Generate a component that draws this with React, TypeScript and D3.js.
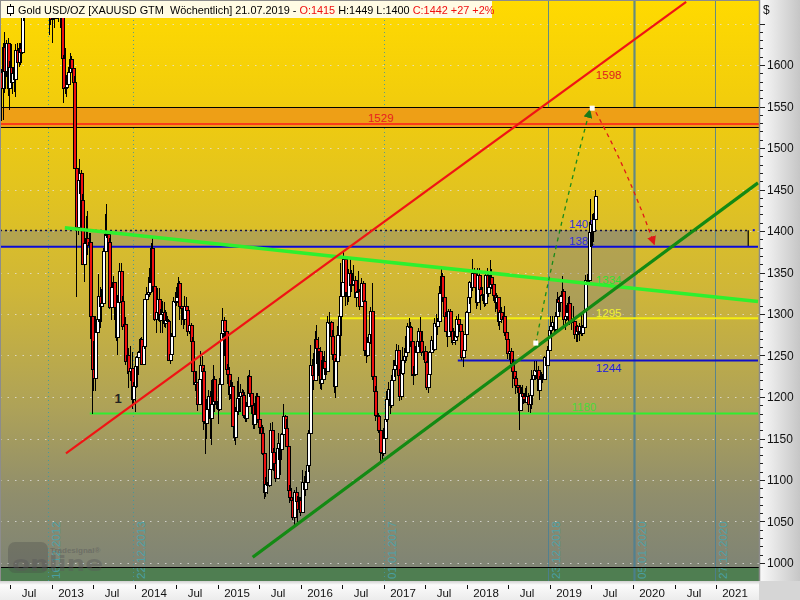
import React from 'react';
import * as d3 from 'd3';

// ---------- weekly OHLC data (week ending Friday), open = previous close ----------
const firstWeekEnd = '2012-05-25';
const firstOpen = 1592;

const close2012 = [1572,1622,1593,1627,1572,1598,1579,1590,1583,1618,1604,1621,1616,1670,1691,1740,1772,1772,1773,1780,1758,1724,1712,1676,1731,1713,1751,1712,1705,1696,1658,1656];
const high2012 = [1595,1627,1640,1630,1632,1605,1625,1597,1596,1625,1626,1626,1626,1678,1693,1741,1777,1787,1781,1796,1789,1755,1733,1724,1738,1737,1754,1754,1722,1724,1698,1670];
const low2012 = [1532,1534,1566,1585,1563,1546,1575,1565,1567,1562,1582,1598,1600,1613,1653,1685,1733,1754,1752,1765,1752,1719,1702,1672,1673,1705,1715,1703,1683,1690,1636,1648];

const close2013 = [1657,1662,1687,1659,1667,1667,1609,1572,1573,1577,1592,1607,1596,1580,1476,1405,1462,1470,1437,1360,1386,1392,1383,1387,1297,1234,1223,1278,1294,1322,1310,1313,1376,1396,1396,1387,1308,1333,1338,1309,1272,1315,1352,1316,1286,1288,1243,1250,1231,1235,1198,1213];
const high2013 = [1694,1679,1694,1696,1680,1684,1675,1612,1620,1588,1597,1615,1611,1605,1587,1480,1469,1487,1473,1445,1398,1418,1424,1398,1397,1300,1267,1298,1298,1348,1332,1330,1379,1420,1433,1399,1391,1369,1346,1338,1317,1323,1361,1361,1322,1296,1296,1263,1259,1261,1254,1218];
const low2013 = [1626,1645,1661,1655,1652,1645,1604,1554,1565,1562,1576,1589,1590,1540,1476,1321,1395,1445,1428,1359,1338,1379,1371,1371,1270,1180,1207,1207,1271,1290,1283,1290,1312,1363,1391,1361,1306,1293,1311,1293,1268,1251,1311,1304,1281,1265,1238,1228,1211,1219,1186,1193];

const close2014 = [1237,1248,1254,1270,1240,1262,1318,1324,1326,1338,1379,1334,1294,1303,1318,1293,1300,1302,1289,1293,1292,1245,1252,1274,1316,1316,1320,1337,1310,1307,1294,1310,1305,1280,1287,1268,1231,1216,1218,1192,1222,1238,1231,1171,1169,1185,1201,1175,1191,1222,1195,1195];
const high2014 = [1239,1249,1255,1271,1272,1269,1318,1332,1345,1355,1385,1392,1340,1310,1331,1331,1306,1316,1315,1305,1298,1294,1255,1277,1321,1326,1332,1345,1340,1316,1310,1322,1320,1305,1293,1289,1272,1236,1230,1218,1230,1255,1250,1235,1180,1197,1208,1207,1220,1238,1225,1205];
const low2014 = [1182,1211,1226,1238,1239,1239,1258,1312,1319,1321,1335,1327,1291,1277,1293,1290,1277,1277,1284,1283,1283,1243,1240,1251,1271,1309,1310,1313,1293,1287,1282,1287,1291,1273,1276,1260,1230,1215,1207,1183,1190,1222,1228,1160,1131,1149,1176,1150,1142,1193,1182,1186];

const close2015 = [1186,1216,1277,1293,1279,1234,1228,1204,1213,1165,1152,1183,1199,1201,1206,1203,1178,1175,1189,1225,1205,1190,1168,1180,1201,1173,1164,1157,1132,1085,1095,1094,1113,1160,1134,1121,1103,1138,1145,1137,1156,1177,1163,1141,1088,1080,1076,1056,1085,1075,1065,1076];
const high2015 = [1210,1223,1283,1307,1296,1284,1240,1236,1220,1218,1175,1188,1219,1224,1216,1210,1209,1192,1194,1227,1232,1206,1199,1193,1205,1205,1180,1171,1166,1134,1104,1097,1125,1169,1170,1138,1124,1143,1157,1147,1157,1191,1178,1173,1145,1094,1090,1080,1088,1091,1081,1080];
const low2015 = [1167,1183,1216,1271,1250,1232,1216,1196,1197,1164,1147,1142,1167,1178,1182,1191,1175,1170,1170,1185,1200,1180,1162,1162,1170,1169,1156,1149,1130,1077,1080,1083,1092,1113,1118,1111,1097,1101,1124,1106,1124,1154,1159,1141,1084,1072,1066,1052,1046,1065,1050,1065];

const close2016 = [1061,1098,1089,1097,1118,1157,1239,1226,1221,1270,1259,1255,1217,1222,1243,1235,1231,1290,1290,1273,1252,1213,1243,1275,1298,1322,1339,1366,1327,1322,1350,1335,1336,1341,1321,1326,1328,1310,1337,1316,1257,1251,1266,1276,1304,1225,1207,1178,1177,1160,1134,1133,1151];
const high2016 = [1080,1112,1105,1111,1128,1160,1263,1246,1253,1279,1287,1272,1260,1244,1250,1256,1270,1297,1303,1292,1281,1253,1247,1285,1315,1362,1350,1375,1368,1335,1354,1367,1353,1359,1346,1328,1352,1330,1343,1340,1317,1264,1272,1281,1308,1337,1234,1213,1191,1181,1169,1140,1163];
const low2016 = [1057,1060,1071,1081,1096,1110,1157,1200,1208,1220,1240,1225,1210,1208,1218,1226,1227,1230,1269,1262,1244,1205,1199,1240,1270,1250,1307,1340,1310,1311,1314,1334,1327,1334,1319,1309,1322,1305,1312,1316,1250,1241,1248,1263,1264,1220,1200,1171,1160,1157,1122,1124,1129];

const close2017 = [1173,1197,1210,1190,1220,1234,1238,1257,1226,1201,1229,1245,1249,1254,1286,1284,1268,1227,1228,1254,1267,1280,1267,1254,1256,1242,1212,1228,1254,1269,1258,1289,1285,1291,1325,1346,1320,1297,1280,1274,1304,1280,1266,1269,1274,1294,1288,1280,1248,1257,1276,1303];
const high2017 = [1182,1207,1218,1220,1226,1245,1245,1264,1263,1234,1232,1260,1259,1273,1289,1295,1290,1268,1237,1262,1271,1283,1296,1278,1259,1262,1243,1232,1256,1274,1274,1295,1300,1295,1334,1357,1349,1326,1302,1283,1306,1306,1285,1283,1287,1297,1300,1283,1280,1262,1276,1304];
const low2017 = [1146,1170,1193,1180,1187,1215,1224,1232,1224,1195,1196,1227,1240,1241,1249,1272,1260,1226,1214,1230,1250,1260,1264,1250,1245,1240,1208,1205,1228,1251,1254,1256,1282,1275,1291,1325,1315,1292,1281,1260,1273,1275,1263,1265,1263,1271,1285,1270,1245,1236,1256,1276];

const close2018 = [1320,1338,1333,1350,1333,1315,1347,1330,1323,1324,1313,1347,1325,1332,1345,1336,1323,1315,1320,1291,1302,1294,1298,1278,1270,1253,1255,1241,1231,1223,1214,1212,1184,1205,1201,1198,1194,1201,1192,1203,1222,1227,1233,1233,1209,1222,1223,1222,1248,1238,1257,1281];
const high2018 = [1323,1340,1344,1366,1355,1337,1355,1356,1332,1332,1326,1349,1356,1348,1365,1354,1336,1322,1325,1320,1305,1308,1303,1310,1280,1265,1262,1259,1246,1235,1225,1220,1213,1215,1214,1204,1211,1213,1205,1208,1233,1233,1243,1243,1237,1225,1230,1228,1250,1250,1262,1284];
const low2018 = [1302,1312,1326,1328,1331,1306,1310,1324,1305,1316,1309,1310,1320,1321,1325,1330,1316,1302,1306,1286,1281,1289,1289,1274,1262,1246,1245,1238,1211,1220,1204,1205,1160,1184,1197,1191,1194,1193,1182,1181,1186,1219,1220,1222,1209,1196,1213,1217,1221,1235,1238,1256];

const close2019 = [1285,1290,1282,1298,1318,1314,1322,1328,1294,1298,1302,1313,1292,1291,1291,1276,1286,1279,1286,1277,1284,1305,1341,1341,1399,1409,1400,1415,1442];
const high2019 = [1298,1298,1298,1303,1326,1320,1323,1346,1330,1300,1311,1320,1322,1295,1310,1296,1290,1287,1289,1303,1287,1306,1347,1348,1411,1439,1420,1422,1449];
const low2019 = [1275,1280,1276,1278,1297,1303,1303,1321,1285,1281,1291,1296,1287,1281,1283,1270,1266,1266,1268,1273,1274,1280,1303,1320,1340,1381,1382,1387,1400];

// ---------- axes ----------
const priceTicks = [1000, 1050, 1100, 1150, 1200, 1250, 1300, 1350, 1400, 1450, 1500, 1550, 1600];
const gridPrices = [1000, 1050, 1100, 1150, 1200, 1250, 1300, 1350, 1400, 1450, 1500, 1550, 1600, 1650];
const timeTickDates = ['2012-07-01','2013-01-01','2013-07-01','2014-01-01','2014-07-01','2015-01-01','2015-07-01','2016-01-01','2016-07-01','2017-01-01','2017-07-01','2018-01-01','2018-07-01','2019-01-01','2019-07-01','2020-01-01','2020-07-01','2021-01-01'];
const timeTickLabels = ['Jul','2013','Jul','2014','Jul','2015','Jul','2016','Jul','2017','Jul','2018','Jul','2019','Jul','2020','Jul','2021'];

// ---------- drawing tools ----------
const markerDates = ['2012-12-16', '2013-12-22', '2017-01-01', '2018-12-23', '2020-01-05', '2020-12-27'];
const markerLabels = ['16.12.2012', '22.12.2013', '01.01.2017', '23.12.2018', '05.01.2020', '27.12.2020'];
const markerKinds = ['dot', 'dot', 'dot', 'thin', 'thick', 'thin'];

const redChannel = [{ d: '2013-03-04', p: 1132 }, { d: '2020-08-21', p: 1676 }];
const greenChannel = [{ d: '2015-06-03', p: 1007 }, { d: '2021-07-03', p: 1458 }];
const limeTrend = [{ d: '2013-02-27', p: 1404 }, { d: '2021-07-03', p: 1315 }];

const hLevels = [
  { p: 1381, from: '2012-05-18', to: '2021-07-03', color: '#0a0ad8', w: 2 },
  { p: 1295, from: '2016-03-25', to: '2021-07-03', color: '#f4ee10', w: 2 },
  { p: 1244, from: '2017-11-21', to: '2021-07-03', color: '#1010c8', w: 2 },
  { p: 1180, from: '2013-06-17', to: '2021-07-03', color: '#30ee30', w: 2 },
];

const zoneTop = 1549, zoneBottom = 1525, zoneLine = 1529;
const baseLine = 995;

const boxA = { from: '2012-05-18', to: '2021-05-21', top: 1401, bottom: 1381 };
const boxB = { from: '2018-12-23', to: '2020-01-05', top: 1401, bottom: 1295 };

const arrowUp = { start: { d: '2018-10-30', p: 1265 }, ctrl: { d: '2019-02-03', p: 1400 }, end: { d: '2019-06-25', p: 1546 } };
const arrowDown = { start: { d: '2019-07-21', p: 1543 }, ctrl: { d: '2019-12-10', p: 1472 }, end: { d: '2020-04-03', p: 1384 } };
const whiteDots = [{ d: '2018-10-30', p: 1265 }, { d: '2019-07-05', p: 1548 }];

const textLabels = [
  { t: '1598', d: '2019-07-21', p: 1583, c: '#e02020' },
  { t: '1529', d: '2016-10-22', p: 1531, c: '#e82020' },
  { t: '1401', d: '2019-03-25', p: 1404, c: '#3030e0' },
  { t: '1381', d: '2019-03-25', p: 1383, c: '#3030e0' },
  { t: '1334', d: '2019-07-21', p: 1336, c: '#30e030' },
  { t: '1295', d: '2019-07-21', p: 1296, c: '#f2f230' },
  { t: '1244', d: '2019-07-21', p: 1230, c: '#2020e0' },
  { t: '1180', d: '2019-04-05', p: 1183, c: '#48dc38' },
];

const parse = d3.timeParse('%Y-%m-%d');
const P = (s: string) => parse(s) as Date;

const PR = 759; // plot right
const PB = 581; // plot bottom

const x = d3.scaleTime().domain([P('2012-05-18'), P('2021-07-03')]).range([0, 758]);
const y = d3.scaleLinear().domain([1000, 1600]).range([563, 65]);

const closes = [...close2012, ...close2013, ...close2014, ...close2015, ...close2016, ...close2017, ...close2018, ...close2019];
const highs = [...high2012, ...high2013, ...high2014, ...high2015, ...high2016, ...high2017, ...high2018, ...high2019];
const lows = [...low2012, ...low2013, ...low2014, ...low2015, ...low2016, ...low2017, ...low2018, ...low2019];
const weekStart = P(firstWeekEnd);
const candles = closes.map((c, i) => {
  const o = i === 0 ? firstOpen : closes[i - 1];
  return {
    date: d3.timeDay.offset(weekStart, 7 * i - 2),
    o,
    c,
    h: Math.max(highs[i], o, c),
    l: Math.min(lows[i], o, c),
  };
});

const FONT = '"Liberation Sans", Arial, sans-serif';

function quadPath(a: any) {
  const p = d3.path();
  p.moveTo(x(P(a.start.d)), y(a.start.p));
  p.quadraticCurveTo(x(P(a.ctrl.d)), y(a.ctrl.p), x(P(a.end.d)), y(a.end.p));
  return p.toString();
}

export default function App() {
  const line = d3.line<{ d: string; p: number }>().x((d) => x(P(d.d))).y((d) => y(d.p));
  return (
    <div style={{ position: 'fixed', left: 0, top: 0, width: 800, height: 600 }}>
      <svg width={800} height={600} style={{ display: 'block' }} fontFamily={FONT}>
        <defs>
          <linearGradient id="bg" x1="0" y1="0" x2="0" y2="1">
            <stop offset="0" stopColor="#ffda00" />
            <stop offset="0.17" stopColor="#f2cd0c" />
            <stop offset="0.35" stopColor="#e0c222" />
            <stop offset="0.5" stopColor="#cfb638" />
            <stop offset="0.7" stopColor="#aea258" />
            <stop offset="0.85" stopColor="#908e6c" />
            <stop offset="1" stopColor="#7c8276" />
          </linearGradient>
          <linearGradient id="raxis" x1="0" y1="0" x2="1" y2="0">
            <stop offset="0" stopColor="#fafafa" />
            <stop offset="1" stopColor="#c6c6c6" />
          </linearGradient>
          <linearGradient id="baxis" x1="0" y1="0" x2="0" y2="1">
            <stop offset="0" stopColor="#d0d0d0" />
            <stop offset="0.2" stopColor="#fbfbfb" />
            <stop offset="1" stopColor="#ececec" />
          </linearGradient>
          <clipPath id="plot">
            <rect x={0} y={0} width={PR} height={PB} />
          </clipPath>
          <marker id="arrG" viewBox="0 0 10 10" refX="9" refY="5" markerWidth="9" markerHeight="9" markerUnits="userSpaceOnUse" orient="auto">
            <path d="M0,0 L10,5 L0,10 Z" fill="#1a7a1a" />
          </marker>
          <marker id="arrR" viewBox="0 0 10 10" refX="9" refY="5" markerWidth="9" markerHeight="9" markerUnits="userSpaceOnUse" orient="auto">
            <path d="M0,0 L10,5 L0,10 Z" fill="#e01818" />
          </marker>
        </defs>

        {/* plot background */}
        <rect x={0} y={0} width={PR} height={PB} fill="url(#bg)" />

        <g clipPath="url(#plot)">
          {/* bottom green band */}
          <rect x={0} y={y(baseLine)} width={PR} height={PB - y(baseLine)} fill="#4f7e51" />

          {/* horizontal dotted grid */}
          {gridPrices.map((p) => (
            <line key={p} x1={0} x2={PR} y1={Math.round(y(p)) + 0.5} y2={Math.round(y(p)) + 0.5}
              stroke="#e4e4e4" strokeOpacity={0.75} strokeWidth={1.2} strokeDasharray="1.5 6" />
          ))}

          {/* gray boxes */}
          <rect x={x(P(boxA.from))} y={y(boxA.top)} width={x(P(boxA.to)) - x(P(boxA.from))} height={y(boxA.bottom) - y(boxA.top)}
            fill="#808080" fillOpacity={0.42} />
          <line x1={x(P(boxA.to))} x2={x(P(boxA.to))} y1={y(boxA.top)} y2={y(boxA.bottom)} stroke="#000" strokeWidth={1.2} />
          <rect x={x(P(boxB.from))} y={y(boxB.top)} width={x(P(boxB.to)) - x(P(boxB.from))} height={y(boxB.bottom) - y(boxB.top)}
            fill="#808080" fillOpacity={0.42} />

          {/* marker lines */}
          {markerDates.map((d, i) => {
            const mx = Math.round(x(P(d))) + 0.5;
            const kind = markerKinds[i];
            return (
              <g key={d}>
                <line x1={mx} x2={mx} y1={0} y2={PB}
                  stroke={kind === 'dot' ? '#3f97a0' : '#4a7f95'}
                  strokeWidth={kind === 'thick' ? 2.2 : 1}
                  strokeDasharray={kind === 'dot' ? '1 3' : undefined}
                  strokeOpacity={kind === 'dot' ? 0.9 : 0.85} />
                <text transform={`translate(${mx + 11},${579}) rotate(-90)`} fontSize={11.5} fill="#48a4ae" fillOpacity={0.9}>
                  {markerLabels[i]}
                </text>
              </g>
            );
          })}

          {/* resistance zone */}
          <rect x={0} y={y(zoneTop)} width={PR} height={y(zoneBottom) - y(zoneTop)} fill="#ee9f16" />
          <line x1={0} x2={PR} y1={Math.round(y(zoneTop)) + 0.5} y2={Math.round(y(zoneTop)) + 0.5} stroke="#000" strokeWidth={1} />
          <line x1={0} x2={PR} y1={Math.round(y(zoneBottom)) + 0.5} y2={Math.round(y(zoneBottom)) + 0.5} stroke="#000" strokeWidth={1} />
          <line x1={0} x2={PR} y1={y(zoneLine)} y2={y(zoneLine)} stroke="#ff1a1a" strokeWidth={1.5} />

          {/* baseline */}
          <line x1={0} x2={PR} y1={Math.round(y(baseLine)) + 0.5} y2={Math.round(y(baseLine)) + 0.5} stroke="#000" strokeWidth={1} />

          {/* horizontal levels */}
          {hLevels.map((h) => (
            <line key={h.p} x1={x(P(h.from))} x2={x(P(h.to))} y1={y(h.p)} y2={y(h.p)} stroke={h.color} strokeWidth={h.w} />
          ))}
          {/* dotted 1401 */}
          <line x1={0} x2={x(P(boxA.to))} y1={Math.round(y(boxA.top)) + 0.5} y2={Math.round(y(boxA.top)) + 0.5}
            stroke="#101040" strokeWidth={1.3} strokeDasharray="2 3" />
          <rect x={x(P('2021-06-10'))} y={y(boxA.top) - 1} width={2} height={2} fill="#1010e0" />

          {/* text labels (behind candles) */}
          {textLabels.map((l) => (
            <text key={l.t} x={x(P(l.d))} y={y(l.p)} fontSize={11.5} fill={l.c}>{l.t}</text>
          ))}
          <text x={x(P('2013-10-04'))} y={y(1193)} fontSize={13} fontWeight="bold" fill="#222">1</text>

          {/* candles */}
          <g shapeRendering="crispEdges">
            {candles.map((d, i) => {
              const cx = Math.round(x(d.date));
              const top = Math.round(y(Math.max(d.o, d.c)));
              const bot = Math.round(y(Math.min(d.o, d.c)));
              return (
                <g key={i}>
                  <line x1={cx + 0.5} x2={cx + 0.5} y1={y(d.h)} y2={y(d.l)} stroke="#000" strokeWidth={1} />
                  <rect x={cx - 1} y={top + 0.5} width={3} height={Math.max(1, bot - top)}
                    fill={d.c < d.o ? '#ee1010' : '#ffffff'} stroke="#000" strokeWidth={1} />
                </g>
              );
            })}
          </g>

          {/* trend lines */}
          <path d={line(limeTrend) as string} stroke="#2ef02e" strokeWidth={3.5} fill="none" />
          <path d={line(redChannel) as string} stroke="#f01414" strokeWidth={2.2} fill="none" />
          <path d={line(greenChannel) as string} stroke="#138a13" strokeWidth={3.2} fill="none" />

          {/* forecast arrows */}
          <path d={quadPath(arrowUp)} stroke="#1a8a1a" strokeWidth={1.3} strokeDasharray="4 4" fill="none" markerEnd="url(#arrG)" />
          <path d={quadPath(arrowDown)} stroke="#e01818" strokeWidth={1.3} strokeDasharray="4 4" fill="none" markerEnd="url(#arrR)" />
          {whiteDots.map((w) => (
            <rect key={w.d} x={x(P(w.d)) - 2.5} y={y(w.p) - 2.5} width={5} height={5} fill="#fff" />
          ))}

          {/* watermark logo */}
          <g>
            <rect x={8} y={542} width={40} height={31} rx={7} fill="#464646" fillOpacity={0.3} />
            <text x={12} y={571} fontSize={21} fontWeight="bold" fontFamily='"DejaVu Sans", sans-serif' fill="#5a5a5a" fillOpacity={0.45}
              textLength={91} lengthAdjust="spacingAndGlyphs">online</text>
            <text x={50} y={553} fontSize={8} fontWeight="bold" fill="#5a5a5a" fillOpacity={0.55}>Tradesignal®</text>
          </g>
        </g>

        {/* frame */}
        <line x1={0} x2={PR} y1={0.5} y2={0.5} stroke="#8c8c8c" />
        <line x1={0.5} x2={0.5} y1={0} y2={PB} stroke="#8c8c8c" />

        {/* header */}
        <rect x={1} y={1} width={491} height={17} fill="#fffbe4" />
        <line x1={10.5} x2={10.5} y1={4} y2={16} stroke="#000" />
        <rect x={7.5} y={6.5} width={6} height={7} fill="#fff" stroke="#000" />
        <text x={18} y={14} fontSize={10.9} fill="#000" style={{ whiteSpace: 'pre' }}>
          <tspan>{'Gold USD/OZ [XAUUSD GTM  Wöchentlich] 21.07.2019 - '}</tspan>
          <tspan fill="#f01010">O:1415</tspan>
          <tspan>{' H:1449 L:1400 '}</tspan>
          <tspan fill="#f01010">C:1442 +27 +2%</tspan>
        </text>

        {/* right axis */}
        <rect x={PR} y={0} width={800 - PR} height={PB} fill="url(#raxis)" />
        <line x1={PR + 0.5} x2={PR + 0.5} y1={0} y2={PB} stroke="#8a8a8a" strokeWidth={1.5} />
        <text x={763} y={14} fontSize={12} fill="#111">$</text>
        {d3.range(1000, 1661, 10).map((p) => {
          const major = p % 50 === 0;
          const yy = Math.round(y(p)) + 0.5;
          if (yy < 20) return null;
          return <line key={p} x1={PR + 1} x2={PR + (major ? 6 : 4)} y1={yy} y2={yy} stroke="#222" strokeWidth={1} />;
        })}
        {priceTicks.map((p) => (
          <text key={p} x={767} y={y(p) + 4} fontSize={12} fill="#111">{p}</text>
        ))}

        {/* bottom axis */}
        <rect x={0} y={PB} width={PR} height={600 - PB} fill="url(#baxis)" />
        <rect x={PR} y={PB} width={800 - PR} height={600 - PB} fill="#d6d6d6" />
        {timeTickDates.map((d, i) => {
          const tx = Math.round(x(P(d))) + 0.5;
          return (
            <g key={d}>
              <line x1={tx} x2={tx} y1={585} y2={589} stroke="#111" />
              <text x={tx + 18.5} y={597} fontSize={11.5} textAnchor="middle" fill="#111">{timeTickLabels[i]}</text>
            </g>
          );
        })}
      </svg>
    </div>
  );
}
